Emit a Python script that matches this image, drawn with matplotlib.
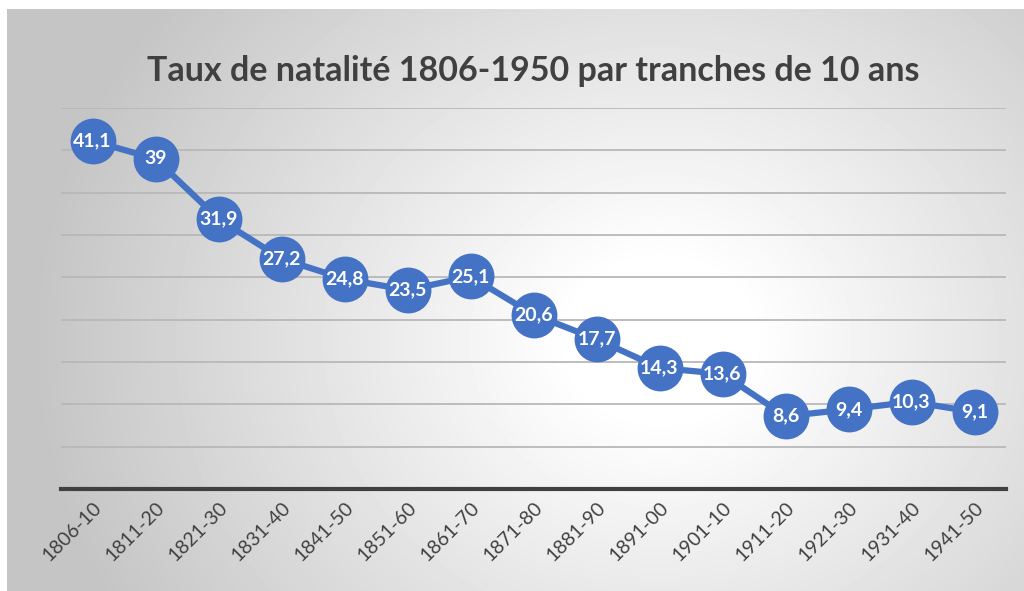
import numpy as np
import matplotlib
matplotlib.use("Agg")
import matplotlib.pyplot as plt

plt.rcParams['font.family'] = ['Lato', 'DejaVu Sans']

# ── données ──────────────────────────────────────────
periodes = ["1806-10", "1811-20", "1821-30", "1831-40", "1841-50", "1851-60",
            "1861-70", "1871-80", "1881-90", "1891-00", "1901-10", "1911-20",
            "1921-30", "1931-40", "1941-50"]
taux = [41.1, 39, 31.9, 27.2, 24.8, 23.5, 25.1, 20.6, 17.7, 14.3, 13.6,
        8.6, 9.4, 10.3, 9.1]

W, H = 1024, 591
fig = plt.figure(figsize=(W / 100, H / 100), dpi=100)

# ── fond en dégradé radial ─────────────────────────────
bg = fig.add_axes([7 / W, 0, 1 - 7 / W, 1 - 9 / H], zorder=0)
yy, xx = np.mgrid[9:H, 7:W]
d = np.hypot(xx - 660, (yy - 340) * 1.15)
t = np.clip((d - 90) / 540, 0, 1)
shade = 1 - 0.23 * t
bg.imshow(shade, cmap="gray", vmin=0, vmax=1, aspect="auto",
          extent=[0, 1, 0, 1], interpolation="bilinear")
bg.axis("off")

# ── courbe ───────────────────────────────────────────
ax = fig.add_axes([61 / W, 1 - 489 / H, (1006 - 61) / W, (489 - 108) / H], zorder=1)
ax.patch.set_alpha(0)
x = np.arange(len(periodes))
ax.plot(x, taux, color="#4472C4", lw=4.5, marker="o", ms=32,
        markerfacecolor="#4472C4", markeredgecolor="#4472C4", zorder=3)
for xi, v in zip(x, taux):
    lbl = f"{v:g}".replace(".", ",")
    ax.text(xi, v, lbl, color="white", fontsize=14, fontweight="bold",
            ha="center", va="center", zorder=4)

ax.set_xlim(-0.5, len(periodes) - 0.5)
ax.set_ylim(0, 45)
ax.set_yticks(np.arange(5, 46, 5))
ax.yaxis.grid(True, color="#b8b8b8", lw=1.3)
ax.set_axisbelow(True)
ax.tick_params(axis="y", left=False, labelleft=False)
ax.tick_params(axis="x", length=0, pad=7)
ax.set_xticks(x)
ax.set_xticklabels(periodes, rotation=45, ha="right", va="top",
                   rotation_mode="anchor", fontsize=14, color="#404040")
for s in ["top", "right", "left"]:
    ax.spines[s].set_visible(False)
ax.spines["bottom"].set_color("#404040")
ax.spines["bottom"].set_linewidth(3)

fig.text(533 / W, 1 - 71 / H, "Taux de natalité 1806-1950 par tranches de 10 ans",
         ha="center", va="center", fontsize=24.5, fontweight="bold", color="#404040")

fig.savefig("out.png", dpi=100)
